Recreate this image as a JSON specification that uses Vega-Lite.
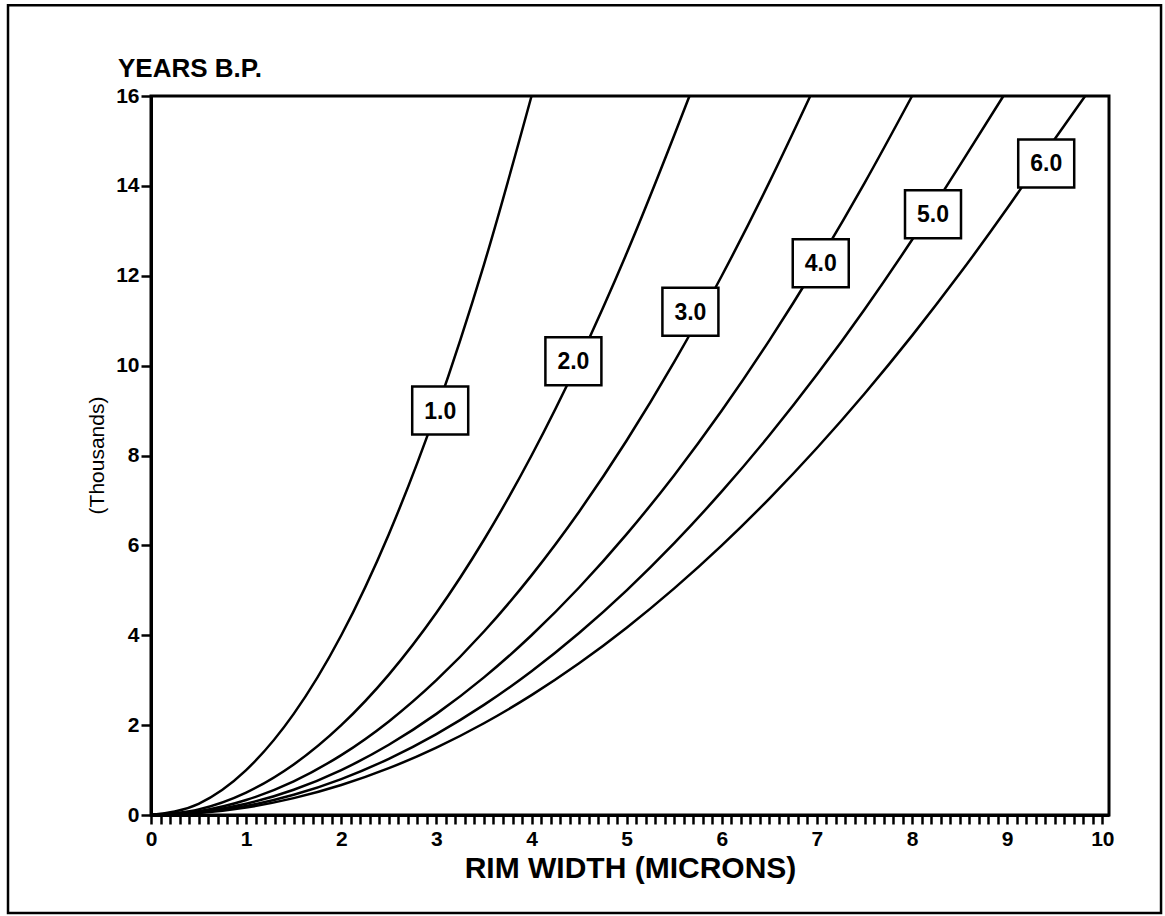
{
  "$schema": "https://vega.github.io/schema/vega-lite/v6.json",
  "width": 958,
  "height": 719,
  "autosize": {"type": "none"},
  "padding": {"left": 151, "top": 96, "right": 56, "bottom": 101},
  "background": "white",
  "title": {"text": "YEARS B.P.", "anchor": "start", "frame": "group", "dx": -33, "dy": 86, "offset": 8, "fontSize": 26, "fontWeight": "bold", "font": "Liberation Sans", "color": "black"},
  "datasets": {
    "curves": [
      {"k": 1, "x": 0, "y": 0}, {"k": 1, "x": 0.5, "y": 0.25}, {"k": 1, "x": 1, "y": 1}, {"k": 1, "x": 1.5, "y": 2.25}, {"k": 1, "x": 2, "y": 4}, {"k": 1, "x": 2.5, "y": 6.25}, {"k": 1, "x": 3, "y": 9}, {"k": 1, "x": 3.5, "y": 12.25}, {"k": 1, "x": 4, "y": 16},
      {"k": 2, "x": 0, "y": 0}, {"k": 2, "x": 0.5, "y": 0.125}, {"k": 2, "x": 1, "y": 0.5}, {"k": 2, "x": 1.5, "y": 1.125}, {"k": 2, "x": 2, "y": 2}, {"k": 2, "x": 2.5, "y": 3.125}, {"k": 2, "x": 3, "y": 4.5}, {"k": 2, "x": 3.5, "y": 6.125}, {"k": 2, "x": 4, "y": 8}, {"k": 2, "x": 4.5, "y": 10.125}, {"k": 2, "x": 5, "y": 12.5}, {"k": 2, "x": 5.5, "y": 15.125}, {"k": 2, "x": 5.66, "y": 16},
      {"k": 3, "x": 0, "y": 0}, {"k": 3, "x": 0.5, "y": 0.083}, {"k": 3, "x": 1, "y": 0.333}, {"k": 3, "x": 1.5, "y": 0.75}, {"k": 3, "x": 2, "y": 1.333}, {"k": 3, "x": 2.5, "y": 2.083}, {"k": 3, "x": 3, "y": 3}, {"k": 3, "x": 3.5, "y": 4.083}, {"k": 3, "x": 4, "y": 5.333}, {"k": 3, "x": 4.5, "y": 6.75}, {"k": 3, "x": 5, "y": 8.333}, {"k": 3, "x": 5.5, "y": 10.083}, {"k": 3, "x": 6, "y": 12}, {"k": 3, "x": 6.5, "y": 14.083}, {"k": 3, "x": 6.93, "y": 16},
      {"k": 4, "x": 0, "y": 0}, {"k": 4, "x": 0.5, "y": 0.0625}, {"k": 4, "x": 1, "y": 0.25}, {"k": 4, "x": 1.5, "y": 0.5625}, {"k": 4, "x": 2, "y": 1}, {"k": 4, "x": 2.5, "y": 1.5625}, {"k": 4, "x": 3, "y": 2.25}, {"k": 4, "x": 3.5, "y": 3.0625}, {"k": 4, "x": 4, "y": 4}, {"k": 4, "x": 4.5, "y": 5.0625}, {"k": 4, "x": 5, "y": 6.25}, {"k": 4, "x": 5.5, "y": 7.5625}, {"k": 4, "x": 6, "y": 9}, {"k": 4, "x": 6.5, "y": 10.5625}, {"k": 4, "x": 7, "y": 12.25}, {"k": 4, "x": 7.5, "y": 14.0625}, {"k": 4, "x": 8, "y": 16},
      {"k": 5, "x": 0, "y": 0}, {"k": 5, "x": 0.5, "y": 0.05}, {"k": 5, "x": 1, "y": 0.2}, {"k": 5, "x": 1.5, "y": 0.45}, {"k": 5, "x": 2, "y": 0.8}, {"k": 5, "x": 2.5, "y": 1.25}, {"k": 5, "x": 3, "y": 1.8}, {"k": 5, "x": 3.5, "y": 2.45}, {"k": 5, "x": 4, "y": 3.2}, {"k": 5, "x": 4.5, "y": 4.05}, {"k": 5, "x": 5, "y": 5}, {"k": 5, "x": 5.5, "y": 6.05}, {"k": 5, "x": 6, "y": 7.2}, {"k": 5, "x": 6.5, "y": 8.45}, {"k": 5, "x": 7, "y": 9.8}, {"k": 5, "x": 7.5, "y": 11.25}, {"k": 5, "x": 8, "y": 12.8}, {"k": 5, "x": 8.5, "y": 14.45}, {"k": 5, "x": 8.96, "y": 16},
      {"k": 6, "x": 0, "y": 0}, {"k": 6, "x": 0.5, "y": 0.042}, {"k": 6, "x": 1, "y": 0.167}, {"k": 6, "x": 1.5, "y": 0.375}, {"k": 6, "x": 2, "y": 0.667}, {"k": 6, "x": 2.5, "y": 1.042}, {"k": 6, "x": 3, "y": 1.5}, {"k": 6, "x": 3.5, "y": 2.042}, {"k": 6, "x": 4, "y": 2.667}, {"k": 6, "x": 4.5, "y": 3.375}, {"k": 6, "x": 5, "y": 4.167}, {"k": 6, "x": 5.5, "y": 5.042}, {"k": 6, "x": 6, "y": 6}, {"k": 6, "x": 6.5, "y": 7.042}, {"k": 6, "x": 7, "y": 8.167}, {"k": 6, "x": 7.5, "y": 9.375}, {"k": 6, "x": 8, "y": 10.667}, {"k": 6, "x": 8.5, "y": 12.042}, {"k": 6, "x": 9, "y": 13.5}, {"k": 6, "x": 9.5, "y": 15.042}, {"k": 6, "x": 9.82, "y": 16}
    ],
    "labels": [
      {"label": "1.0", "x": 3.04, "y": 9.0},
      {"label": "2.0", "x": 4.44, "y": 10.1},
      {"label": "3.0", "x": 5.67, "y": 11.2},
      {"label": "4.0", "x": 7.04, "y": 12.28},
      {"label": "5.0", "x": 8.22, "y": 13.37},
      {"label": "6.0", "x": 9.41, "y": 14.5}
    ]
  },
  "layer": [
    {
      "data": {"values": [{"frame": "outer"}]},
      "mark": {"type": "rect", "fill": "white", "fillOpacity": 0, "stroke": "black", "strokeWidth": 2.5, "clip": false},
      "encoding": {
        "x": {"datum": -1.503, "type": "quantitative"},
        "x2": {"datum": 10.617},
        "y": {"datum": 18.02, "type": "quantitative"},
        "y2": {"datum": -2.18}
      }
    },
    {
      "data": {"name": "curves"},
      "mark": {"type": "line", "interpolate": "monotone", "color": "black", "strokeWidth": 2.5},
      "encoding": {
        "x": {"field": "x", "type": "quantitative"},
        "y": {"field": "y", "type": "quantitative"},
        "detail": {"field": "k", "type": "nominal"}
      }
    },
    {
      "data": {"name": "labels"},
      "mark": {"type": "point", "shape": "M-1,-0.857L1,-0.857L1,0.857L-1,0.857Z", "size": 3136, "filled": true, "fill": "white", "fillOpacity": 1, "stroke": "black", "strokeWidth": 2.5, "opacity": 1},
      "encoding": {
        "x": {"field": "x", "type": "quantitative"},
        "y": {"field": "y", "type": "quantitative"}
      }
    },
    {
      "data": {"name": "labels"},
      "mark": {"type": "text", "font": "Liberation Sans", "fontWeight": "bold", "fontSize": 23, "color": "black", "align": "center", "baseline": "middle", "dy": 1},
      "encoding": {
        "x": {"field": "x", "type": "quantitative"},
        "y": {"field": "y", "type": "quantitative"},
        "text": {"field": "label"}
      }
    }
  ],
  "resolve": {"scale": {"x": "shared", "y": "shared"}},
  "encoding": {
    "x": {
      "type": "quantitative",
      "scale": {"domain": [0, 10.07], "nice": false, "zero": false},
      "axis": {
        "title": "RIM WIDTH (MICRONS)",
        "values": [0,0.1,0.2,0.3,0.4,0.5,0.6,0.7,0.8,0.9,1,1.1,1.2,1.3,1.4,1.5,1.6,1.7,1.8,1.9,2,2.1,2.2,2.3,2.4,2.5,2.6,2.7,2.8,2.9,3,3.1,3.2,3.3,3.4,3.5,3.6,3.7,3.8,3.9,4,4.1,4.2,4.3,4.4,4.5,4.6,4.7,4.8,4.9,5,5.1,5.2,5.3,5.4,5.5,5.6,5.7,5.8,5.9,6,6.1,6.2,6.3,6.4,6.5,6.6,6.7,6.8,6.9,7,7.1,7.2,7.3,7.4,7.5,7.6,7.7,7.8,7.9,8,8.1,8.2,8.3,8.4,8.5,8.6,8.7,8.8,8.9,9,9.1,9.2,9.3,9.4,9.5,9.6,9.7,9.8,9.9,10],
        "labelExpr": "datum.value % 1 === 0 ? format(datum.value, 'd') : ''",
        "labelOverlap": false,
        "labelFlush": false,
        "labelBound": false,
        "grid": false,
        "tickSize": 9,
        "tickWidth": 2.5,
        "labelPadding": 4,
        "titleY": 62,
        "titleBaseline": "alphabetic",
        "titleFontSize": 30
      }
    },
    "y": {
      "type": "quantitative",
      "scale": {"domain": [0, 16], "nice": false, "zero": false},
      "axis": {
        "title": "(Thousands)",
        "values": [0, 2, 4, 6, 8, 10, 12, 14, 16],
        "grid": false,
        "tickSize": 10,
        "tickWidth": 2.5,
        "labelPadding": 2,
        "labelBaseline": "middle",
        "titleX": -54,
        "titleY": 359,
        "titleAngle": -90,
        "titleAlign": "center",
        "titleBaseline": "middle",
        "titleFontWeight": "normal",
        "titleFontSize": 21
      }
    }
  },
  "config": {
    "font": "Liberation Sans",
    "view": {"stroke": "black", "strokeWidth": 3},
    "axis": {
      "domainColor": "black",
      "domainWidth": 3,
      "tickColor": "black",
      "labelColor": "black",
      "labelFont": "Liberation Sans",
      "labelFontWeight": "bold",
      "labelFontSize": 21,
      "titleColor": "black",
      "titleFont": "Liberation Sans",
      "titleFontWeight": "bold"
    }
  }
}
